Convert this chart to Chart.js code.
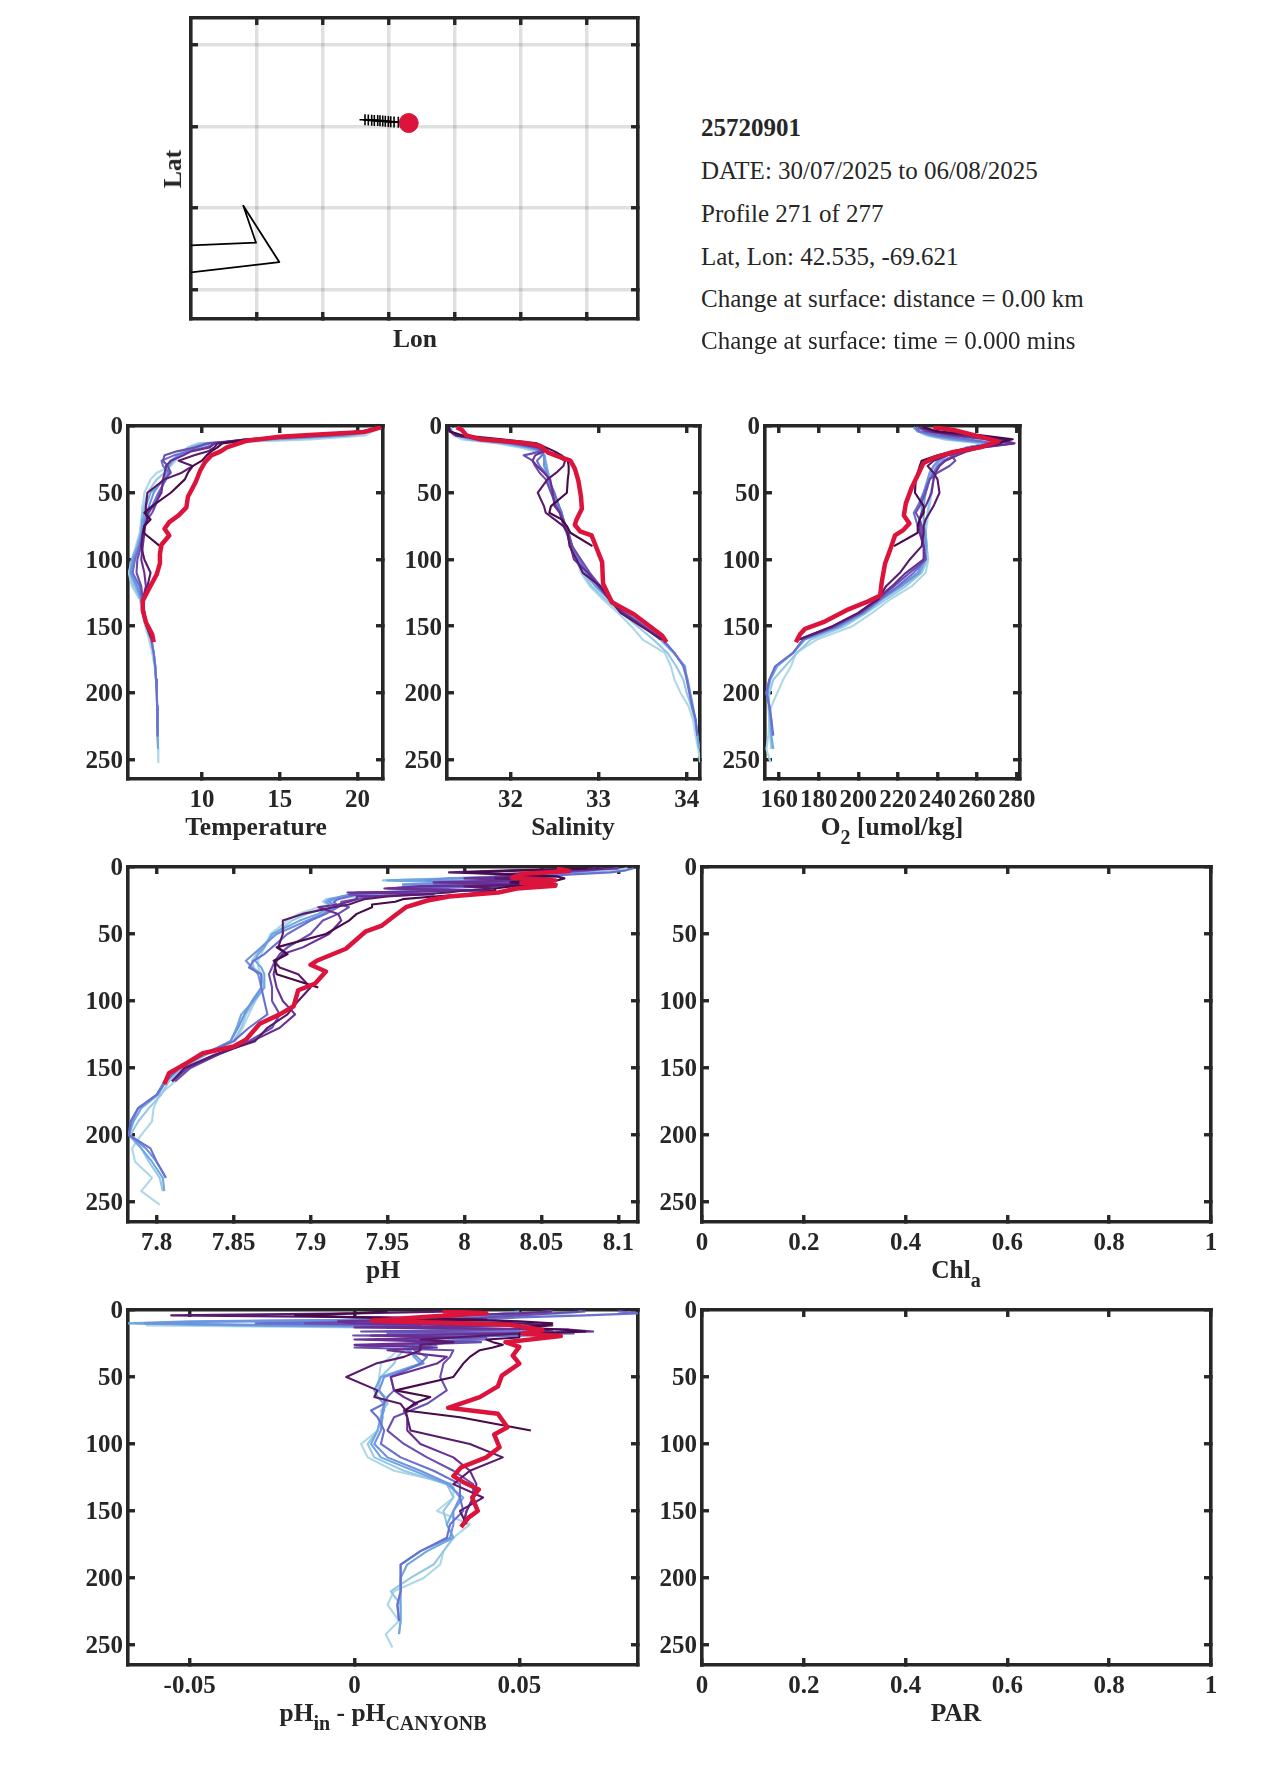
<!DOCTYPE html>
<html>
<head>
<meta charset="utf-8">
<title>25720901</title>
<script src="https://cdn.jsdelivr.net/npm/chart.js@4"></script>
<style>
  body { margin: 0; background: #fff; width: 1275px; height: 1771px; position: relative; overflow: hidden; }
  canvas { position: absolute; }
  .lab { position: absolute; font: bold 25.5px "Liberation Serif"; color: #262626; white-space: nowrap; transform: translate(-50%, -50%); }
  .lab span { font-size: 20px; position: relative; top: 9px; }
  .info { position: absolute; left: 701px; font: 25px "Liberation Serif"; color: #262626; white-space: nowrap; transform: translateY(-50%); }
</style>
</head>
<body>
<script>
// depth levels the older casts were read at
var depths = [1,4,7,10,13,16,19,22,26,30,35,40,50,60,65,70,75,80,90,100,110,120,130,140,150,160,170,180,190,200,210,220,232,242,252];
// pH is much spikier near the surface so it gets more levels there
var phDepths = [1,2.5,4,5.5,7,8.5,10,11.5,13,14.5,16,17.5,19,20.5,22,24,26,28,30,35,40,50,60,65,70,75,80,90,100,110,120,130,140,150,160,170,180,190,200,210,220,232,242,252];

var depthTicks = [0,50,100,150,200,250];
var tempTicks = [10,15,20];
var salTicks = [32,33,34];
var o2Ticks = [160,180,200,220,240,260,280];
var phTicks = [7.8,7.85,7.9,7.95,8,8.05,8.1];
var dphTicks = [-0.05,0,0.05];
var unitTicks = [0,0.2,0.4,0.6,0.8,1];
var lonTicks = [-71.463,-70.668,-69.866,-69.068,-68.268,-67.468];
var latTicks = [43.252,42.501,41.754,41.0];

var tempProfiles = [
  [21.5,21,20.5,17,10,9.2,8.9,8.6,8.3,8,7.1,6.7,6.3,6.2,6.15,6.1,6.05,6,5.75,5.5,5.3,5.5,6,6.2,6.35,6.6,6.8,6.95,7.05,7.1,7.12,7.15,7.15,7.18,7.2],
  [21.5,20.9,19.8,15.5,9.8,9.1,8.8,8.5,8.2,7.9,7.6,7.1,6.5,6.3,6.2,6.15,6.1,6.05,5.85,5.55,5.35,5.6,6.05,6.25,6.4,6.7,6.9,7,7.05,7.1,7.12,7.15,7.15,7.18],
  [21.5,20.7,19.5,14.5,10.2,9.4,9,8.6,8.1,7.9,7.8,7.6,6.7,6.4,6.3,6.2,6.15,6.1,5.85,5.5,5.4,5.75,6.1,6.25,6.45,6.75,6.9,7,7.05,7.1,7.12,7.15,7.15,7.18],
  [21.5,20.6,19,14,10.5,9.7,9.1,8.5,8,7.7,7.7,7.5,6.9,6.6,6.45,6.3,6.2,6.15,5.95,5.6,5.45,5.85,6.1,6.3,6.45,6.75,6.9,7,7.05,7.1,7.12,7.15,7.15],
  [21.5,20.6,18.5,13.5,11,10.2,9.2,8.2,7.4,7.5,7.9,7.7,7.2,6.8,6.6,6.4,6.3,6.2,6,5.7,5.55,6,6.15,6.3,6.45,6.75,6.9,7,7.05,7.1,7.12,7.15,7.15],
  [21.5,20.5,18,13,10.4,9.6,8.4,7.6,7.5,7.8,8,7.6,7.3,7,6.8,6.5,6.3,6.25,6.1,5.85,5.8,6.1,6.2,6.3,6.45,6.8],
  [21.5,20.5,17.5,13,10.8,10.5,9.3,8.8,8,7.7,7.6,7.5,7.4,6.9,6.5,6.5,6.35,6.3,6.2,6.1,6.3,6.4,6.2,6.3,6.45,6.8],
  [21.5,20.3,16.5,12.8,11,10.8,10.4,9.5,8.5,9.4,8.7,7.6,6.5,6.4,6.4,6.5,6.3,6.2,6.1,6.3,6.7,6.5,6.2,6.2,6.45,6.8],
  [21.5,20.4,17,13.2,11.3,11,10.6,10.3,10,9.4,9.1,8.9,8,6.8,6.3,6.7,6.3,6.25,7.3]
];
var tempRedDepth = [1,4.5,6.5,8,11,16,19,22,27,33,42,53,61,67,72,77,82,89,96,103,111,122,131,138,147,156,162];
var tempRed = [21.5,20.4,17.2,15,12.9,11.6,11.2,10.6,10.2,9.9,9.6,9.1,9,8.5,7.9,7.6,7.9,7.4,7.3,7.3,7.1,6.6,6.2,6.2,6.4,6.8,6.9];

var salProfiles = [
  [31.32,31.33,31.35,31.45,31.85,32.1,32.28,32.38,32.4,32.41,32.42,32.43,32.46,32.53,32.56,32.58,32.6,32.63,32.7,32.75,32.8,32.9,33.05,33.22,33.37,33.5,33.75,33.82,33.86,33.93,34.02,34.07,34.1,34.13,34.15],
  [31.32,31.34,31.36,31.5,31.9,32.15,32.3,32.38,32.4,32.41,32.43,32.45,32.48,32.54,32.57,32.6,32.62,32.64,32.7,32.74,32.82,32.92,33.08,33.26,33.44,33.62,33.78,33.88,33.96,34,34.05,34.09,34.12,34.14],
  [31.31,31.33,31.37,31.55,31.95,32.2,32.35,32.39,32.39,32.41,32.42,32.44,32.49,32.55,32.58,32.6,32.62,32.65,32.7,32.76,32.84,32.96,33.12,33.3,33.5,33.7,33.85,33.98,34,34.03,34.06,34.1,34.12,34.14],
  [31.31,31.33,31.38,31.6,32,32.22,32.35,32.38,32.38,32.38,32.42,32.43,32.48,32.55,32.58,32.6,32.62,32.65,32.7,32.77,32.86,32.98,33.14,33.32,33.52,33.72,33.86,33.97,34.01,34.04,34.07,34.1,34.12],
  [31.3,31.32,31.38,31.62,32.02,32.25,32.38,32.36,32.3,32.33,32.4,32.43,32.5,32.55,32.58,32.6,32.62,32.65,32.7,32.78,32.87,33,33.14,33.3,33.52,33.73,33.86,33.96,34,34.03,34.06,34.1,34.12],
  [31.3,31.32,31.38,31.65,32.05,32.3,32.35,32.15,32.25,32.28,32.33,32.4,32.46,32.52,32.56,32.6,32.63,32.66,32.7,32.8,32.9,33.02,33.12,33.28,33.5,33.7],
  [31.3,31.31,31.38,31.7,32.1,32.33,32.38,32.28,32.25,32.3,32.38,32.45,32.48,32.5,32.56,32.58,32.61,32.64,32.68,32.72,32.88,33,33.12,33.28,33.5,33.72],
  [31.3,31.31,31.4,31.75,32.15,32.38,32.42,32.5,32.62,32.6,32.52,32.42,32.31,32.38,32.4,32.5,32.6,32.65,32.67,32.75,32.82,33.02,33.13,33.25,33.48,33.72],
  [31.3,31.31,31.45,31.9,32.3,32.4,32.5,32.58,32.65,32.66,32.66,32.65,32.64,32.46,32.44,32.58,32.64,32.68,32.93]
];
var salRedDepth = [1,3,7,10,11,13,15,20,22,26,32,41,53,62,70,74,79,82,92,102,118,132,141,150,157,162];
var salRed = [31.39,31.45,31.5,31.66,31.88,32.19,32.34,32.43,32.51,32.68,32.73,32.77,32.8,32.81,32.75,32.73,32.79,32.92,32.98,33.04,33.05,33.15,33.4,33.58,33.72,33.77];

var o2Profiles = [
  [229.5,230.5,234,243,262,258,248,245,241,239.5,238.5,238,237,236,235.5,235,234.5,234,234.5,235.4,234,227,216,207,197,179,168.5,166,162,159,156,155,154.5,153.5,155.6],
  [229,230,235,245,265,256,249,244,241,239,238.5,238,236.5,235.5,235,234.5,234,234,234.5,235,232,224,214,204,193,176,169,163,157,155,154.5,155,155.5,156],
  [228,230,236,248,267,255,249,244,240,238,237,236,234,233,233,233,233,234,234.5,234,231,222,212,203,191,173,167,159,155.5,154,155,155.5,156,157],
  [228,230,237,250,268,255,250,245,241,238,236,235,233,232,232,231,232,233,234,233,230,221,211,202,190,172,167,158,155,153.5,155,156,156.5],
  [229,231,240,255,270,258,253,248,243,240,238,236,233,230,228,229,230,231,233,234,228,220,211,202,189,172,167,158,155,153.5,155,156,157],
  [230,234,246,265,278,262,253,247,249,246,240,236,234,231,229,231,232,232,233,234,226,218,210,201,188,171],
  [231,236,250,270,279,263,255,250,244,241,239,238,237,234,232,231,231,231,233,233,224,217,209,200,187,170],
  [232,238,257,275,272,262,252,245,238,235,238,240,241,238,236,234,233,233,232,226,221,214,210,200,187,170],
  [233,240,262,278,270,258,248,240,232,231,230,229,228.6,233,233,231,230,230,218]
];
var o2RedDepth = [1,3,8,11.5,16,19.5,24,28,36,46,58,67,73,78,82,93,103,117,127,132,138,147,152,156,162];
var o2Red = [237.9,248,261.5,270.8,261.5,248,237.9,232.8,230.3,227,224,223,225.8,222.7,218.5,216,213.5,211.8,211,204,194,182.3,173,170.5,168.4];

var phProfiles = [
  [8.106,8.098,8.085,8.06,8.02,8.04,7.96,8.03,7.99,8,7.965,7.99,7.96,7.95,7.93,7.91,7.908,7.912,7.905,7.892,7.885,7.874,7.87,7.868,7.866,7.866,7.868,7.868,7.864,7.86,7.856,7.851,7.83,7.818,7.812,7.802,7.798,7.797,7.79,7.784,7.786,7.797,7.79,7.802],
  [8.1,8.09,8.08,8.05,8.03,7.99,7.947,8.02,7.97,8,7.96,7.98,7.95,7.94,7.925,7.915,7.909,7.912,7.91,7.898,7.888,7.876,7.868,7.865,7.862,7.863,7.868,7.87,7.864,7.858,7.855,7.85,7.832,7.817,7.808,7.803,7.795,7.788,7.783,7.79,7.795,7.802,7.804],
  [8.09,8.085,8.07,8.04,8.02,8,7.95,7.99,8.01,7.96,7.99,7.97,7.94,7.925,7.92,7.912,7.91,7.912,7.913,7.905,7.893,7.875,7.87,7.866,7.864,7.868,7.87,7.87,7.863,7.855,7.852,7.848,7.832,7.815,7.806,7.801,7.79,7.785,7.782,7.79,7.797,7.804,7.805],
  [8.085,8.08,8.07,8.05,8.03,7.99,7.975,8.02,7.96,8.01,7.955,7.98,7.95,7.93,7.92,7.915,7.912,7.915,7.915,7.908,7.898,7.878,7.868,7.863,7.858,7.862,7.866,7.868,7.862,7.857,7.853,7.848,7.83,7.814,7.805,7.8,7.788,7.784,7.782,7.793,7.8,7.806],
  [8.11,8.105,8.095,8.07,8.05,8.01,8.02,8.03,7.98,8.03,7.96,7.99,7.95,7.93,7.925,7.918,7.915,7.917,7.918,7.91,7.9,7.885,7.875,7.87,7.863,7.86,7.868,7.868,7.87,7.872,7.86,7.85,7.83,7.815,7.806,7.8,7.788,7.783,7.782,7.796,7.8,7.806],
  [8.09,8.08,8.06,8.04,8.05,8.01,8.03,7.99,8.04,7.97,7.95,8.01,7.93,7.925,7.94,7.93,7.92,7.92,7.925,7.918,7.908,7.9,7.885,7.88,7.877,7.875,7.873,7.875,7.875,7.88,7.875,7.86,7.84,7.822,7.812],
  [8.1,8.07,8.05,8.02,8.04,8,8.04,7.98,8.05,7.97,7.948,8.02,7.924,7.98,7.93,7.93,7.925,7.918,7.905,7.918,7.92,7.912,7.895,7.882,7.878,7.877,7.876,7.878,7.882,7.89,7.88,7.862,7.84,7.82,7.81],
  [8.09,8.03,7.99,8.03,8.06,8.02,8.05,8.03,8.05,8,8.02,8,7.99,7.97,7.95,7.935,7.93,7.925,7.915,7.895,7.882,7.882,7.879,7.885,7.876,7.88,7.892,7.9,7.892,7.885,7.872,7.864,7.838,7.818,7.81],
  [8.08,8.04,8,8.03,8.06,8.065,8.06,8.03,8.06,8.03,8.02,8.02,8.01,8,7.98,7.96,7.955,7.94,7.94,7.93,7.925,7.91,7.878,7.885,7.877,7.877,7.878,7.905]
];
var phRedDepth = [1,3,5,8,10,12,13,14,16,19,22,25,30,37,44,48,61,70,73,78,87,92,104,110,117,129,134,139,146,154,162];
var phRed = [8.06,8.068,8.038,8.031,8.059,8.037,8.05,8.059,8.034,8.022,7.99,7.976,7.962,7.954,7.946,7.936,7.923,7.904,7.9,7.91,7.903,7.892,7.889,7.88,7.867,7.858,7.85,7.83,7.82,7.808,7.805];

var dphProfiles = [
  [0.069,0.065,0.05,0.045,0.03,-0.02,-0.06,-0.063,0,0.04,0.055,0.03,0.045,0.03,0.022,0.03,0.02,0.016,0.013,0.011,0.008,0.0075,0.007,0.0095,0.01,0.008,0.0085,0.007,0.002,0.004,0.012,0.03,0.03,0.025,0.035,0.03,0.027,0.026,0.021,0.012,0.01,0.0135,0.0095,0.0115],
  [0.06,0.055,0.05,0.03,0.02,-0.045,-0.066,-0.03,0.02,0.05,0.03,0.05,0.02,0.035,0.02,0.025,0.018,0.017,0.015,0.013,0.012,0.008,0.007,0.009,0.01,0.0085,0.008,0.007,0.004,0.006,0.015,0.028,0.03,0.027,0.028,0.03,0.027,0.024,0.017,0.011,0.014,0.014,0.0135],
  [0.05,0.045,0.04,0.03,0.015,-0.05,-0.0687,-0.035,0.03,0.045,0.01,0.04,0.01,0.03,0.015,0.02,0.018,0.017,0.017,0.018,0.02,0.008,0.006,0.007,0.009,0.009,0.008,0.007,0.005,0.008,0.018,0.028,0.033,0.03,0.028,0.03,0.022,0.016,0.014,0.014,0.014,0.014,0.0135],
  [0.06,0.05,0.04,0.03,0.02,-0.04,-0.0636,-0.02,0.03,0.04,0.015,0.05,0.015,0.03,0.02,0.025,0.02,0.018,0.016,0.019,0.021,0.009,0.0075,0.009,0.009,0.0085,0.0085,0.008,0.006,0.01,0.02,0.029,0.032,0.03,0.03,0.029,0.02,0.014,0.014,0.014,0.013,0.0135],
  [0.08,0.086,0.07,0.05,0.04,0,-0.03,0.02,0.015,0.05,0.06,0.01,0.055,0.02,0.04,0.02,0.025,0.02,0.018,0.022,0.02,0.011,0.012,0.01,0.009,0.005,0.007,0.009,0.008,0.014,0.024,0.032,0.032,0.033,0.029,0.028,0.02,0.014,0.014,0.014,0.013,0.0135],
  [0.07,0.06,0.05,0.04,0.03,0.01,-0.015,0.02,0.01,0.05,0.002,0.0665,-0.0004,0.04,0.01,0.0384,0.015,0,0.03,0.029,0.027,0.026,0.028,0.025,0.022,0.017,0.012,0.01,0.015,0.022,0.03,0.036,0.036,0.034,0.033],
  [0.06,0.05,0.03,0.02,0.02,-0.005,0,0.05,0,0.065,0.0724,0.05,0.005,0.03,0,0.03,0,0.025,0.01,0.028,0.025,0.011,0.012,0.015,0.019,0.015,0.016,0.016,0.02,0.03,0.035,0.037,0.036,0.034,0.033],
  [0.03,0,-0.0556,0.01,0.04,0.02,0.05,0.06,0.05,0.06,0.055,0.05,0.04,0.03,0.02,0.03,0.02,0.02,0.02,0.015,0.0065,-0.0025,0.007,0.006,0.014,0.0155,0.016,0.017,0.035,0.045,0.035,0.03,0.039,0.032,0.034],
  [0.01,0,-0.018,0,0.03,0.05,0.06,0.058,0.05,0.062,0.07,0.05,0.05,0.05,0.04,0.042,0.045,0.042,0.038,0.035,0.033,0.03,0.0125,0.023,0.018,0.0155,0.032,0.0535]
];
var dphRedDepth = [1,2.5,5,8,11,15,17.5,19.5,24,27.5,34,40,49,57,65,73,77.5,87.5,93,102.5,110,117.5,124,129,134,140,150,155,162];
var dphRed = [0.0267,0.04,0.022,0.0054,0.047,0.057,0.051,0.0626,0.0458,0.05,0.048,0.05,0.0447,0.0435,0.038,0.0284,0.0435,0.0464,0.0424,0.044,0.04,0.0323,0.03,0.0334,0.0377,0.0357,0.0374,0.0346,0.0323];

// map: float track, coast, last position
var trackLon = [-70.151,-70.111,-70.07,-70.038,-69.997,-69.969,-69.936,-69.905,-69.868,-69.839,-69.799,-69.747];
var trackLat = [42.565,42.563,42.561,42.559,42.557,42.555,42.553,42.551,42.549,42.547,42.545,42.542];
var coastLon = [-72.26,-71.472,-71.626,-71.19,-72.26];
var coastLat = [41.41,41.435,41.775,41.257,41.162];
var lastLon = [-69.621];
var lastLat = [42.535];

var castColors = ['#add8e6','#96c8e6','#6fa8e0','#6f93e0','#6a70d0','#6a4fb0','#6a2f94','#591a6e','#470a4a'];
var ink = '#262626';
var tickFont = { family: 'Liberation Serif', size: 25, weight: 'bold' };

function points(xs, ys) {
  return xs.map(function (x, i) { return { x: x, y: ys[i] }; });
}

// chart.js paints low order last, so newest cast and the red one end up on top
function profileSets(profiles, levels, redDepth, red) {
  var sets = profiles.map(function (vals, i) {
    return { data: points(vals, levels), borderColor: castColors[i], borderWidth: 2.1, order: profiles.length - i };
  });
  sets.push({ data: points(red, redDepth), borderColor: '#dc143c', borderWidth: 4.5, order: 0 });
  return sets;
}

function fixedTicks(vals) {
  return function (scale) { scale.ticks = vals.map(function (v) { return { value: v }; }); };
}

function axis(position, min, max, vals, labels, o) {
  o = o || {};
  var horizontal = position === 'bottom' || position === 'top';
  return {
    type: 'linear',
    axis: horizontal ? 'x' : 'y',
    position: position,
    min: min,
    max: max,
    reverse: !!o.reverse,
    afterBuildTicks: fixedTicks(vals),
    afterFit: function (scale) {
      if (horizontal) scale.height = o.size || 0; else scale.width = o.size || 0;
    },
    border: { display: true, color: ink, width: 3.6 },
    grid: {
      drawOnChartArea: !!o.lines,
      color: 'rgba(0,0,0,0.12)',
      lineWidth: 3.5,
      drawTicks: true,
      tickLength: -7,
      tickWidth: 3.4,
      tickColor: ink
    },
    ticks: {
      display: labels,
      autoSkip: false,
      maxRotation: 0,
      minRotation: 0,
      color: ink,
      font: tickFont,
      padding: horizontal ? 14 : 12,
      labelOffset: horizontal ? 0 : 2,
      callback: function (v) { return String(v); }
    }
  };
}

// left, right, top, bottom are where the axes box sits on the page
function panel(box, xMin, xMax, xVals, yMin, yMax, yVals, sets, o) {
  o = o || {};
  var mL = 70, mR = 30, mT = 40, mB = 50;
  var c = document.createElement('canvas');
  c.width = box[1] - box[0] + mL + mR;
  c.height = box[3] - box[2] + mT + mB;
  c.style.left = (box[0] - mL) + 'px';
  c.style.top = (box[2] - mT) + 'px';
  document.body.appendChild(c);
  var labels = !o.noLabels;
  new Chart(c, {
    type: 'scatter',
    data: { datasets: sets },
    options: {
      responsive: false,
      animation: false,
      showLine: true,
      layout: { padding: { left: 0, right: mR, top: mT, bottom: 0 } },
      elements: { point: { radius: 0 }, line: { tension: 0, borderJoinStyle: 'round' } },
      plugins: { legend: { display: false }, tooltip: { enabled: false } },
      scales: {
        x: axis('bottom', xMin, xMax, xVals, labels, { size: mB, lines: o.lines }),
        x2: axis('top', xMin, xMax, xVals, false),
        y: axis('left', yMin, yMax, yVals, labels, { size: mL, lines: o.lines, reverse: o.reverse }),
        y2: axis('right', yMin, yMax, yVals, false, { reverse: o.reverse })
      }
    }
  });
}

function label(html, x, y, rot) {
  var d = document.createElement('div');
  d.className = 'lab';
  d.innerHTML = html;
  d.style.left = x + 'px';
  d.style.top = y + 'px';
  if (rot) d.style.transform = 'translate(-50%, -50%) rotate(-90deg)';
  document.body.appendChild(d);
}

function info(text, y, bold) {
  var d = document.createElement('div');
  d.className = 'info';
  d.textContent = text;
  d.style.top = y + 'px';
  if (bold) d.style.fontWeight = 'bold';
  document.body.appendChild(d);
}

// map
panel([191, 638, 18, 319], -72.26, -66.842, lonTicks, 40.734, 43.5, latTicks, [
  { data: points(coastLon, coastLat), borderColor: '#000', borderWidth: 1.8, order: 2 },
  { data: points(trackLon, trackLat), borderColor: '#000', borderWidth: 1.8, pointStyle: 'cross', pointRadius: 5.5, pointBorderColor: '#000', pointBorderWidth: 1.6, order: 1 },
  { data: points(lastLon, lastLat), showLine: false, pointRadius: 9.5, pointBackgroundColor: '#dc143c', pointBorderColor: '#dc143c', order: 0 }
], { noLabels: true, lines: true });
label('Lon', 415, 339);
label('Lat', 173, 169, true);

info('25720901', 127.5, true);
info('DATE: 30/07/2025 to 06/08/2025', 171);
info('Profile 271 of 277', 214);
info('Lat, Lon: 42.535, -69.621', 256.5);
info('Change at surface: distance = 0.00 km', 299);
info('Change at surface: time = 0.000 mins', 341);

// top row
panel([128, 383, 426, 779], 5.25, 21.63, tempTicks, 0, 264.5, depthTicks, profileSets(tempProfiles, depths, tempRedDepth, tempRed), { reverse: true });
label('Temperature', 256, 827);
panel([447, 700, 426, 779], 31.28, 34.15, salTicks, 0, 264.5, depthTicks, profileSets(salProfiles, depths, salRedDepth, salRed), { reverse: true });
label('Salinity', 573, 827);
panel([765, 1020, 426, 779], 152.8, 281.7, o2Ticks, 0, 264.5, depthTicks, profileSets(o2Profiles, depths, o2RedDepth, o2Red), { reverse: true });
label('O<span>2</span> [umol/kg]', 892, 827);

// middle row
panel([128, 638, 867, 1222], 7.7814, 8.1128, phTicks, 0, 265, depthTicks, profileSets(phProfiles, phDepths, phRedDepth, phRed), { reverse: true });
label('pH', 383, 1270);
panel([702, 1211, 867, 1222], 0, 1, unitTicks, 0, 265, depthTicks, [], { reverse: true });
label('Chl<span>a</span>', 956, 1270);

// bottom row
panel([128, 638, 1310, 1665], -0.0687, 0.086, dphTicks, 0, 265, depthTicks, profileSets(dphProfiles, phDepths, dphRedDepth, dphRed), { reverse: true });
label('pH<span>in</span> - pH<span>CANYONB</span>', 383, 1713);
panel([702, 1211, 1310, 1665], 0, 1, unitTicks, 0, 265, depthTicks, [], { reverse: true });
label('PAR', 956, 1713);
</script>
</body>
</html>
